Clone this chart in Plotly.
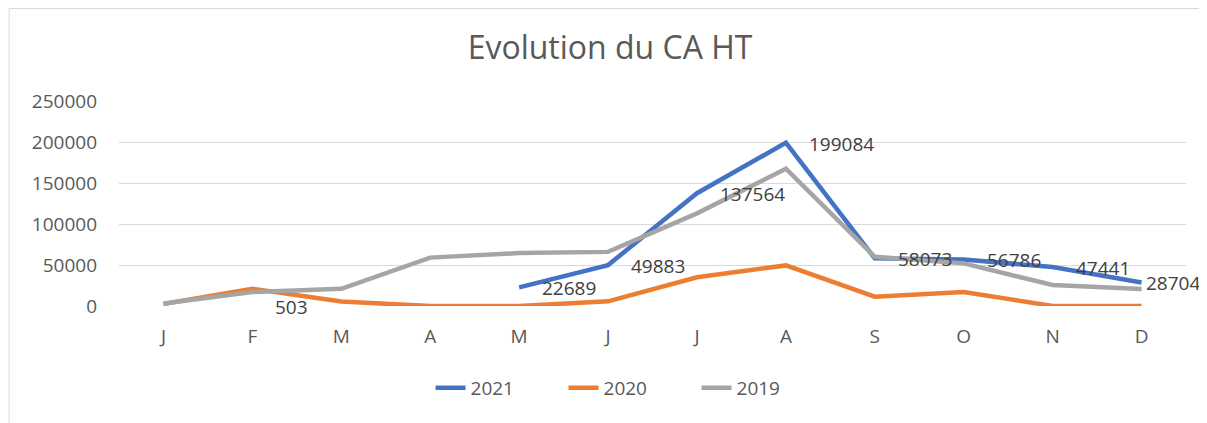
import plotly.graph_objects as go

months = ["J", "F", "M", "A", "M", "J", "J", "A", "S", "O", "N", "D"]
ca_2021 = [None, 503, None, None, 22689, 49883, 137564, 199084, 58073, 56786, 47441, 28704]
ca_2020 = [2500, 21000, 5500, 0, 0, 5700, 35000, 49500, 11400, 17000, 0, 0]
ca_2019 = [3000, 17000, 21000, 59000, 64500, 66000, 113000, 167500, 60000, 52000, 25600, 20700]
y_ticks = [0, 50000, 100000, 150000, 200000, 250000]

# the page body has an 8px margin: the figure is sized to fit the window
OFF = 8
WIN_W, WIN_H = 1207, 423
W, H = WIN_W - OFF, WIN_H - OFF
L, R, T, B = 118.5 - OFF, WIN_W - 1186.5, 101 - OFF, WIN_H - 306
FONT = "'Open Sans', Lato, sans-serif"

x_idx = list(range(len(months)))

fig = go.Figure()
fig.add_trace(go.Scatter(x=x_idx, y=ca_2021, mode="lines", name="2021",
                         line=dict(color="#4472C4", width=4.5), connectgaps=False))
fig.add_trace(go.Scatter(x=x_idx, y=ca_2020, mode="lines", name="2020",
                         line=dict(color="#ED7D31", width=4.5)))
fig.add_trace(go.Scatter(x=x_idx, y=ca_2019, mode="lines", name="2019",
                         line=dict(color="#A5A5A5", width=4.5)))

annotations = []
last = len(ca_2021) - 1
for i, v in enumerate(ca_2021):
    if v is None:
        continue
    annotations.append(dict(x=i, y=v, xref="x", yref="y", text=str(v), showarrow=False,
                            xanchor="left", yanchor="middle",
                            xshift=2 if i == last else 21, yshift=-1,
                            font=dict(family=FONT, size=19, color="#404040")))

pw = W - L - R
ph = H - T - B
shapes = [dict(type="rect", xref="paper", yref="paper",
               x0=(0.5 - L) / pw, x1=(W + 2 - L) / pw,
               y0=(H - B - (H + 2)) / ph, y1=(H - B - 0.5) / ph,
               line=dict(color="#D9D9D9", width=1), fillcolor="rgba(0,0,0,0)", layer="below")]

fig.update_layout(
    width=W, height=H,
    margin=dict(l=L, r=R, t=T, b=B, autoexpand=False),
    paper_bgcolor="white", plot_bgcolor="white",
    title=dict(text="Evolution du CA HT", x=(610 - OFF - L) / pw, xref="paper", xanchor="center",
               y=1 - (48 - OFF) / H, yanchor="middle",
               font=dict(family=FONT, size=32, color="#595959")),
    xaxis=dict(range=[-0.5, 11.5], tickmode="array", tickvals=x_idx, ticktext=months,
               showgrid=False, zeroline=False, showline=False, ticks="",
               ticklabelstandoff=17,
               tickfont=dict(family=FONT, size=19, color="#595959"), fixedrange=True),
    yaxis=dict(range=[0, 250000], tickmode="array", tickvals=y_ticks,
               ticktext=[str(t) for t in y_ticks],
               showgrid=True, gridcolor="#D9D9D9", gridwidth=1.3, zeroline=False,
               showline=False, ticks="", ticklabelstandoff=21,
               tickfont=dict(family=FONT, size=19, color="#595959")),
    legend=dict(orientation="h", x=(630 - OFF - L) / pw, xanchor="center",
                y=(306 - 388) / ph, yanchor="middle",
                font=dict(family=FONT, size=19, color="#595959"),
                entrywidth=88, entrywidthmode="pixels"),
    annotations=annotations,
    shapes=shapes,
    showlegend=True,
)

fig.write_html("out.html")
